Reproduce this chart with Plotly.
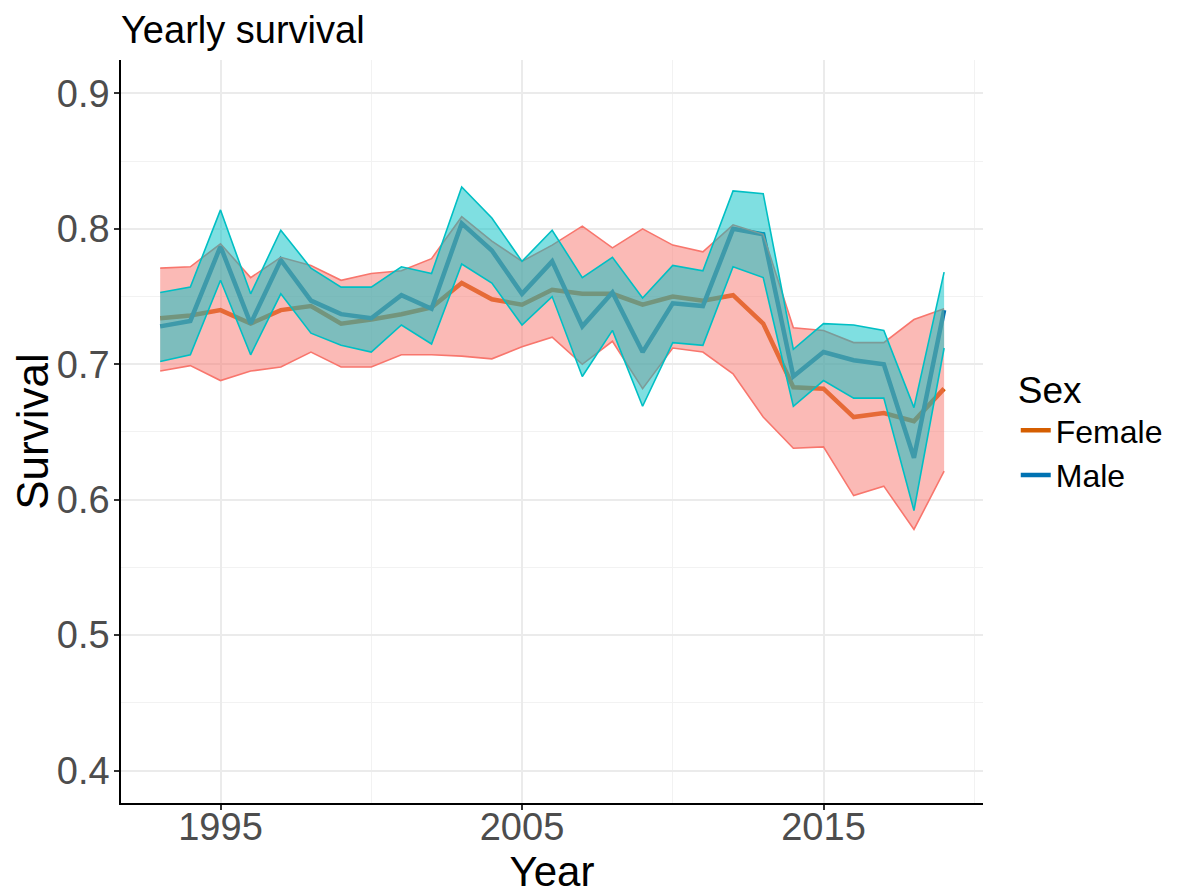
import plotly.graph_objects as go

years = list(range(1993, 2020))

female_mean = [0.734, 0.736, 0.740, 0.730, 0.740, 0.743, 0.730, 0.733, 0.737, 0.742,
               0.760, 0.748, 0.744, 0.755, 0.752, 0.752, 0.744, 0.750, 0.747, 0.751,
               0.730, 0.683, 0.682, 0.661, 0.664, 0.658, 0.682]
female_upper = [0.771, 0.772, 0.789, 0.764, 0.779, 0.773, 0.762, 0.767, 0.769, 0.778,
                0.809, 0.791, 0.776, 0.788, 0.802, 0.786, 0.800, 0.788, 0.783, 0.803,
                0.796, 0.727, 0.725, 0.716, 0.716, 0.733, 0.741]
female_lower = [0.695, 0.699, 0.688, 0.695, 0.698, 0.709, 0.698, 0.698, 0.707, 0.707,
                0.706, 0.704, 0.713, 0.720, 0.700, 0.717, 0.682, 0.712, 0.709, 0.693,
                0.661, 0.638, 0.639, 0.603, 0.610, 0.578, 0.621]

male_mean = [0.728, 0.732, 0.787, 0.730, 0.777, 0.747, 0.737, 0.734, 0.751, 0.741,
             0.804, 0.784, 0.752, 0.776, 0.728, 0.753, 0.709, 0.745, 0.743, 0.800,
             0.796, 0.691, 0.709, 0.703, 0.700, 0.631, 0.740]
male_upper = [0.753, 0.757, 0.814, 0.752, 0.799, 0.771, 0.757, 0.757, 0.772, 0.767,
              0.831, 0.808, 0.776, 0.799, 0.764, 0.779, 0.749, 0.773, 0.769, 0.828,
              0.826, 0.711, 0.730, 0.729, 0.725, 0.668, 0.768]
male_lower = [0.702, 0.707, 0.762, 0.707, 0.752, 0.723, 0.714, 0.709, 0.729, 0.715,
              0.774, 0.760, 0.729, 0.750, 0.691, 0.725, 0.669, 0.716, 0.714, 0.772,
              0.764, 0.669, 0.688, 0.675, 0.675, 0.592, 0.712]

series = [
    ("Female", female_mean, female_upper, female_lower, "#D55E00", "#F8766D", "rgba(248,118,109,0.5)"),
    ("Male", male_mean, male_upper, male_lower, "#0072B2", "#00BFC4", "rgba(0,191,196,0.5)"),
]

FONT = "Liberation Sans, Arial, sans-serif"

fig = go.Figure()

# mean lines first (ribbons drawn on top, as in the original)
for name, mean, up, lo, lcol, rcol, fcol in series:
    fig.add_trace(go.Scatter(x=years, y=mean, mode="lines", name=name,
                             line=dict(color=lcol, width=4.5), showlegend=True))

for name, mean, up, lo, lcol, rcol, fcol in series:
    fig.add_trace(go.Scatter(x=years + years[::-1], y=up + lo[::-1], mode="lines",
                             fill="toself", fillcolor=fcol, line=dict(width=0),
                             hoverinfo="skip", showlegend=False))
    fig.add_trace(go.Scatter(x=years, y=up, mode="lines", line=dict(color=rcol, width=1.6),
                             showlegend=False))
    fig.add_trace(go.Scatter(x=years, y=lo, mode="lines", line=dict(color=rcol, width=1.6),
                             showlegend=False))

axis_common = dict(
    showline=True, linecolor="black", linewidth=1.5,
    ticks="outside", ticklen=5, tickwidth=1.5, tickcolor="#333333",
    tickfont=dict(family=FONT, size=38, color="#4D4D4D"),
    showgrid=True, gridcolor="#EBEBEB", gridwidth=1.5,
    zeroline=False, mirror=False, automargin=False,
)

fig.update_layout(
    width=1194, height=890,
    margin=dict(l=113, r=219, t=52, b=95),
    paper_bgcolor="white", plot_bgcolor="white",
    font=dict(family=FONT, color="black"),
    title=dict(text="Yearly survival", x=0, xref="paper", xanchor="left",
               y=1 - 22 / 890, yref="container", yanchor="middle",
               font=dict(family=FONT, size=38, color="black")),
    xaxis=dict(axis_common, range=[1991.70, 2020.29], tickmode="linear", tick0=1995, dtick=10,
               ticklabelstandoff=-15,
               minor=dict(tick0=2000, dtick=10, showgrid=True, gridcolor="#F2F2F2", gridwidth=1, ticks=""),
               title=dict(text="Year", font=dict(family=FONT, size=42, color="black"), standoff=0)),
    yaxis=dict(axis_common, range=[0.376, 0.9247], tickmode="linear", tick0=0.4, dtick=0.1,
               tickformat=".1f", ticklabelstandoff=-3,
               minor=dict(tick0=0.45, dtick=0.1, showgrid=True, gridcolor="#F2F2F2", gridwidth=1, ticks=""),
               title=dict(text="Survival", font=dict(family=FONT, size=44, color="black"), standoff=14)),
    legend=dict(x=1.038, xanchor="left", y=0.603, yanchor="top",
                title=dict(text="Sex", font=dict(family=FONT, size=37, color="black")),
                font=dict(family=FONT, size=32, color="black"),
                bgcolor="rgba(0,0,0,0)", borderwidth=0, tracegroupgap=0),
)

fig.write_html("out.html")
